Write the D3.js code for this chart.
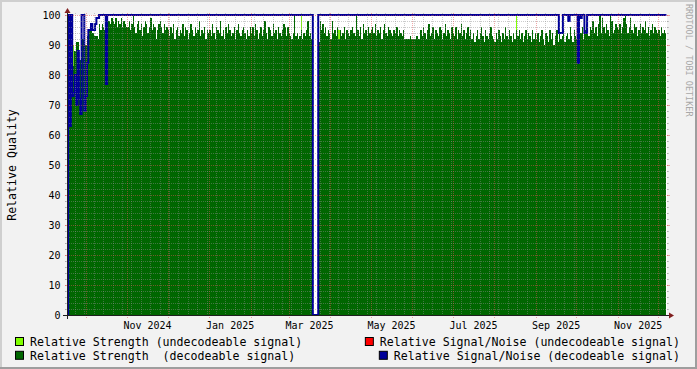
<!DOCTYPE html>
<html>
<head>
<meta charset="utf-8">
<script src="https://cdn.jsdelivr.net/npm/d3@7"></script>
<style>
  html, body { margin: 0; padding: 0; background: #f2f2f2; }
  svg { display: block; }
  text { font-family: "DejaVu Sans Mono", monospace; }
</style>
</head>
<body>
<div id="chart"></div>
<script>
/* daily samples start on this day (UTC) */
const firstDay = '2024-09-17'

/* Relative Strength (decodeable), one value per day */
const strength = [
  80, 80, 80, 84, 83, 88, 88, 91, 91, 85, 85, 92, 92, 90, // sep 17-30
  90, 93, 95, 95, 95, 94, 93, 93, 93, 92, 97, 95, 97, 96, 95, 97, 97, 98, 97, 99, 98, 97, 99, 96, 98, 97, 99, 96, 98, 97, 96, // oct
  96, 98, 95, 97, 100, 96, 94, 97, 98, 95, 97, 93, 96, 98, 97, 94, 96, 99, 95, 97, 96, 92, 95, 97, 98, 96, 94, 97, 95, 96, // nov
  95, 93, 96, 94, 97, 92, 95, 96, 93, 95, 94, 97, 93, 96, 95, 92, 94, 97, 95, 93, 96, 94, 95, 98, 93, 95, 94, 96, 92, 95, 94, // dec
  95, 93, 97, 94, 92, 96, 95, 94, 98, 93, 95, 92, 96, 94, 97, 95, 93, 94, 96, 92, 95, 97, 94, 93, 95, 96, 94, 92, 95, 93, 96, // jan
  94, 96, 93, 97, 95, 92, 94, 96, 93, 95, 98, 94, 92, 96, 95, 93, 97, 94, 95, 92, 96, 94, 93, 95, 97, 96, 93, 96, // feb
  94, 93, 92, 94, 100, 93, 94, 92, 93, 95, 92, 94, 93, 95, 98, 93, 94, 92, 0, 0, 0, 0, 91, 98, 95, 97, 94, 96, 93, 95, 94, // mar
  92, 98, 94, 95, 93, 96, 92, 95, 93, 94, 96, 92, 95, 94, 93, 95, 96, 94, 93, 100, 95, 93, 96, 92, 97, 94, 95, 93, 96, 94, // apr
  95, 96, 94, 97, 93, 95, 94, 96, 92, 95, 97, 94, 93, 96, 95, 94, 93, 95, 94, 96, 93, 95, 94, 93, 95, 92, 92, 92, 92, 93, 92, // may
  92, 92, 92, 93, 92, 92, 95, 93, 96, 94, 92, 95, 97, 93, 94, 96, 92, 95, 94, 93, 96, 95, 92, 94, 97, 93, 95, 94, 92, 96, // jun
  94, 93, 96, 92, 95, 94, 97, 93, 95, 92, 94, 96, 93, 95, 92, 94, 91, 93, 95, 92, 94, 96, 93, 91, 95, 93, 92, 94, 96, 93, 92, // jul
  91, 94, 92, 95, 93, 91, 94, 92, 96, 93, 92, 95, 93, 91, 94, 92, 95, 93, 95, 92, 94, 91, 93, 95, 92, 94, 93, 91, 95, 92, 94, // aug
  92, 94, 91, 93, 95, 92, 90, 94, 93, 91, 95, 92, 94, 90, 93, 95, 91, 94, 92, 93, 95, 91, 93, 94, 92, 96, 93, 91, 95, 93, // sep
  92, 95, 93, 94, 96, 92, 95, 97, 94, 93, 96, 95, 98, 94, 96, 93, 97, 100, 94, 99, 96, 94, 97, 95, 93, 100, 98, 94, 95, 97, 96, // oct
  95, 97, 94, 96, 99, 100, 97, 94, 96, 99, 95, 94, 97, 96, 93, 95, 97, 94, 96, 95, 98, 94, 96, 93, 95, 97, 94, 96, 95, 94, // nov
  95, 93, 96, 94, 95, 94 // dec 1-6
]

/* Relative Strength (undecodeable): only days where it rises above the decodeable one */
const weakDays = [3, 4, 174, 202, 334]
const weakValues = [86, 90, 100, 95, 100]

/* Relative Signal/Noise (decodeable): sits at 100, except on these days */
const snDays = [0, 2, 4, 5, 6, 7, 8, 9, 10, 13, 14, 15, 16, 17, 18, 19, 20, 21, 22, 23, 29,
  183, 184, 185, 186, 366, 367, 368, 373, 380, 382, 385, 386]
const snValues = [0, 63, 73, 74, 80, 70, 88, 72, 67, 68, 73, 84, 95, 95, 97, 95, 95, 97, 99, 99, 77,
  0, 0, 0, 0, 94, 94, 94, 98, 84, 99, 94, 94]

const yTicks = [0, 10, 20, 30, 40, 50, 60, 70, 80, 90, 100]
const xLabels = ['Nov 2024', 'Jan 2025', 'Mar 2025', 'May 2025', 'Jul 2025', 'Sep 2025', 'Nov 2025']

const legendLabels = [
  'Relative Strength (undecodeable signal)',
  'Relative Signal/Noise (undecodeable signal)',
  'Relative Strength  (decodeable signal)',
  'Relative Signal/Noise (decodeable signal)'
]
const legendColors = ['#80ff00', '#ff0000', '#006600', '#000099']

const width = 697
const height = 369
const x0 = 67
const x1 = 667
const yTop = 15
const yBottom = 315

const dayMs = 864e5
const viewStart = Date.UTC(2024, 8, 17, 3, 20)
const viewEnd = new Date(viewStart + 446.3 * dayMs)

const parseDay = d3.utcParse('%Y-%m-%d')
const day0 = parseDay(firstDay)
const dayAt = (i) => d3.utcDay.offset(day0, i)

const x = d3.scaleUtc().domain([new Date(viewStart), viewEnd]).range([x0, x1])
const y = d3.scaleLinear().domain([0, 100]).range([yBottom, yTop])

/* step points, with a closing point at the end of the last day */
function steps(values) {
  const pts = values.map((v, i) => ({ t: dayAt(i), v: v }))
  pts.push({ t: dayAt(values.length), v: values[values.length - 1] })
  return pts
}

const snSeries = strength.map((_, i) => {
  const k = snDays.indexOf(i)
  return k < 0 ? 100 : snValues[k]
})

const svg = d3.select('#chart')
  .append('svg')
  .attr('width', width)
  .attr('height', height)

/* background + rrdtool style shading */
svg.append('rect').attr('width', width).attr('height', height).attr('fill', '#f2f2f2')
svg.append('rect').attr('x', 0).attr('y', 0).attr('width', width).attr('height', 2).attr('fill', '#cfcfcf')
svg.append('rect').attr('x', 0).attr('y', 0).attr('width', 2).attr('height', height).attr('fill', '#cfcfcf')
svg.append('rect').attr('x', 0).attr('y', height - 2).attr('width', width).attr('height', 2).attr('fill', '#9e9e9e')
svg.append('rect').attr('x', width - 2).attr('y', 0).attr('width', 2).attr('height', height).attr('fill', '#9e9e9e')

// canvas
svg.append('rect')
  .attr('x', x0).attr('y', yTop)
  .attr('width', x1 - x0).attr('height', yBottom - yTop)
  .attr('fill', '#fff')

svg.append('clipPath').attr('id', 'plot-clip')
  .append('rect')
  .attr('x', x0).attr('y', yTop - 2)
  .attr('width', x1 - x0).attr('height', yBottom - yTop + 2)

const plot = svg.append('g').attr('clip-path', 'url(#plot-clip)')

// undecodeable strength peeks
plot.selectAll('rect.weak')
  .data(weakDays)
  .enter()
  .append('rect')
  .attr('class', 'weak')
  .attr('x', (d) => x(dayAt(d)))
  .attr('width', (d) => x(dayAt(d + 1)) - x(dayAt(d)))
  .attr('y', (d, i) => y(weakValues[i]))
  .attr('height', (d, i) => y(0) - y(weakValues[i]))
  .attr('fill', legendColors[0])
  .attr('shape-rendering', 'crispEdges')

const area = d3.area()
  .curve(d3.curveStepAfter)
  .x((d) => x(d.t))
  .y0(y(0))
  .y1((d) => y(d.v))

plot.append('path')
  .attr('d', area(steps(strength)))
  .attr('fill', legendColors[2])
  .attr('shape-rendering', 'crispEdges')

const line = d3.line()
  .curve(d3.curveStepAfter)
  .x((d) => x(d.t))
  .y((d) => y(d.v))

plot.append('path')
  .attr('d', line(steps(snSeries)))
  .attr('fill', 'none')
  .attr('stroke', legendColors[3])
  .attr('stroke-width', 2)

/* grid on top of the data */
const grid = svg.append('g')
const minorCol = 'rgba(143, 143, 143, 0.45)'
const majorCol = 'rgba(222, 79, 79, 0.5)'

function hLine(v, col, ext) {
  const yy = Math.round(y(v)) + 0.5
  grid.append('line')
    .attr('x1', x0 - 2).attr('x2', x1 + 2).attr('y1', yy).attr('y2', yy)
    .attr('stroke', col).attr('stroke-dasharray', '1,1')
  grid.append('line').attr('x1', x0 - 2).attr('x2', x0).attr('y1', yy).attr('y2', yy).attr('stroke', col)
  grid.append('line').attr('x1', x1).attr('x2', x1 + ext).attr('y1', yy).attr('y2', yy).attr('stroke', col)
}

function vLine(t, col, ext) {
  const xx = Math.round(x(t)) + 0.5
  grid.append('line')
    .attr('x1', xx).attr('x2', xx).attr('y1', yTop - 2).attr('y2', yBottom + ext)
    .attr('stroke', col).attr('stroke-dasharray', '1,1')
}

d3.range(0, 101, 2).filter((v) => v % 10 !== 0).forEach((v) => hLine(v, minorCol, 2))
const months = d3.utcMonth.range(new Date(viewStart), viewEnd)
d3.utcMonday.range(new Date(viewStart), viewEnd)
  .filter((t) => t.getUTCDate() !== 1)
  .forEach((t) => vLine(t, minorCol, 2))
yTicks.forEach((v) => hLine(v, majorCol, 3))
months.forEach((t) => vLine(t, majorCol, 3))

/* axes + arrows */
svg.append('line')
  .attr('x1', x0 - 4).attr('x2', x1 + 4).attr('y1', yBottom + 0.5).attr('y2', yBottom + 0.5)
  .attr('stroke', '#1f1f1f')
svg.append('line')
  .attr('x1', x0 + 0.5).attr('x2', x0 + 0.5).attr('y1', yBottom + 4).attr('y2', yTop - 4)
  .attr('stroke', '#1f1f1f')
svg.append('path')
  .attr('d', `M${x1 + 2},${yBottom - 2.5}L${x1 + 2},${yBottom + 3.5}L${x1 + 7},${yBottom + 0.5}Z`)
  .attr('fill', '#801f1f')
svg.append('path')
  .attr('d', `M${x0 - 2.5},${yTop - 2}L${x0 + 3.5},${yTop - 2}L${x0 + 0.5},${yTop - 7}Z`)
  .attr('fill', '#801f1f')

// y tick labels
svg.append('g')
  .selectAll('text')
  .data(yTicks)
  .enter()
  .append('text')
  .attr('x', 60.5)
  .attr('y', (d) => y(d) + 4)
  .attr('text-anchor', 'end')
  .attr('font-size', '10px')
  .attr('fill', '#000')
  .text((d) => d)

// x labels, centred on their month
const parseMonth = d3.utcParse('%b %Y')
svg.append('g')
  .selectAll('text')
  .data(xLabels)
  .enter()
  .append('text')
  .attr('x', (d) => {
    const t = parseMonth(d)
    return (x(t) + x(d3.utcMonth.offset(t, 1))) / 2
  })
  .attr('y', 328.5)
  .attr('text-anchor', 'middle')
  .attr('font-size', '10px')
  .attr('fill', '#000')
  .text((d) => d)

// y title
svg.append('text')
  .attr('transform', `translate(16, ${(yTop + yBottom) / 2}) rotate(-90)`)
  .attr('text-anchor', 'middle')
  .attr('font-size', '11.6px')
  .attr('fill', '#000')
  .text('Relative Quality')

// watermark
svg.append('text')
  .attr('transform', 'translate(685.5, 4) rotate(90)')
  .attr('font-size', '8.5px')
  .attr('fill', '#a8a8a8')
  .text('RRDTOOL / TOBI OETIKER')

/* legend: left column starts at 30, right column ends at 680 */
const legend = svg.append('g').attr('font-size', '11.6px').style('white-space', 'pre')
legendLabels.forEach((label, i) => {
  const row = Math.floor(i / 2)
  const baseline = 345.8 + row * 13.8
  const txt = legend.append('text')
    .attr('y', baseline)
    .attr('fill', '#000')
    .attr('xml:space', 'preserve')
    .text(label)
  let start = 30
  if (i % 2 === 1) {
    start = 680 - txt.node().getComputedTextLength()
  }
  txt.attr('x', start)
  legend.append('rect')
    .attr('x', start - 14.5)
    .attr('y', baseline - 8.3)
    .attr('width', 8)
    .attr('height', 8)
    .attr('fill', legendColors[i])
    .attr('stroke', '#000')
    .attr('stroke-width', 1)
})
</script>
</body>
</html>
